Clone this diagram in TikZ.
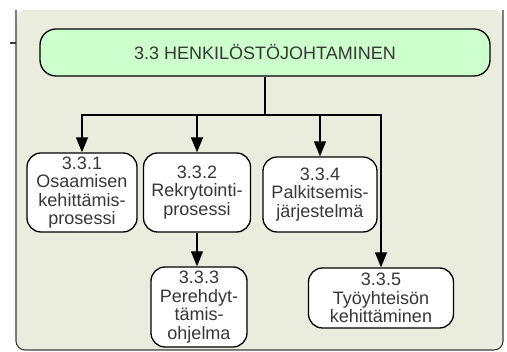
\documentclass[tikz,border=0pt]{standalone}
\usepackage{fontspec}
\setmainfont{Liberation Sans}
\usetikzlibrary{arrows.meta}
\definecolor{panelfill}{RGB}{234,237,221}
\definecolor{panelline}{RGB}{60,60,60}
\definecolor{titlefill}{RGB}{204,255,204}
\definecolor{txt}{RGB}{55,55,55}
\tikzset{
  box/.style={draw=black, line width=1.3pt, fill=white, rounded corners=14pt,
    align=center, text=txt, inner sep=1pt,
    font=\fontsize{18}{18.5}\selectfont},
  titlebox/.style={box, fill=titlefill, rounded corners=16pt},
  link/.style={draw=black, line width=1.3pt},
  arr/.style={link, -{Triangle[length=15pt,width=12pt]}},
}
\begin{document}
\begin{tikzpicture}[x=1pt,y=-1pt]
\useasboundingbox (0,0) rectangle (507,352);
% background panel (top edge runs off the page)
\fill[panelfill, rounded corners=9pt] (16,10) -- (16,350) -- (503,350) -- (503,10) -- cycle;
\draw[panelline, line width=1.1pt, rounded corners=9pt] (16,10) -- (16,350) -- (503,350) -- (503,10);
\draw[panelline, line width=1.1pt] (10,43) -- (16,43);

% nodes
\node[titlebox, minimum width=450pt, minimum height=47pt] (top) at (265,52.5) {3.3 HENKILÖSTÖJOHTAMINEN};
\node[box, minimum width=110pt, minimum height=79pt] (n1) at (82,192.5) {3.3.1\\Osaamisen\\kehittämis-\\prosessi};
\node[box, minimum width=107pt, minimum height=79pt] (n2) at (197,192.5) {3.3.2\\Rekrytointi-\\prosessi};
\node[box, minimum width=96pt, minimum height=80pt] (n3) at (199,307) {3.3.3\\Perehdyt-\\tämis-\\ohjelma};
\node[box, minimum width=114pt, minimum height=75pt] (n4) at (320,194.5) {3.3.4\\Palkitsemis-\\järjestelmä};
\node[box, minimum width=145pt, minimum height=60pt] (n5) at (381,298) {3.3.5\\Työyhteisön\\kehittäminen};

% connectors
\coordinate (j) at (top.south |- 0,115);
\draw[link] (top.south) -- (j);
\draw[arr] (j) -| (n1.north);
\draw[arr] (j) -| (n2.north);
\draw[arr] (j) -| (n4.north);
\draw[arr] (j) -| (n5.north);
\draw[arr] (n2.south) -- (n2.south |- n3.north);
\end{tikzpicture}
\end{document}
